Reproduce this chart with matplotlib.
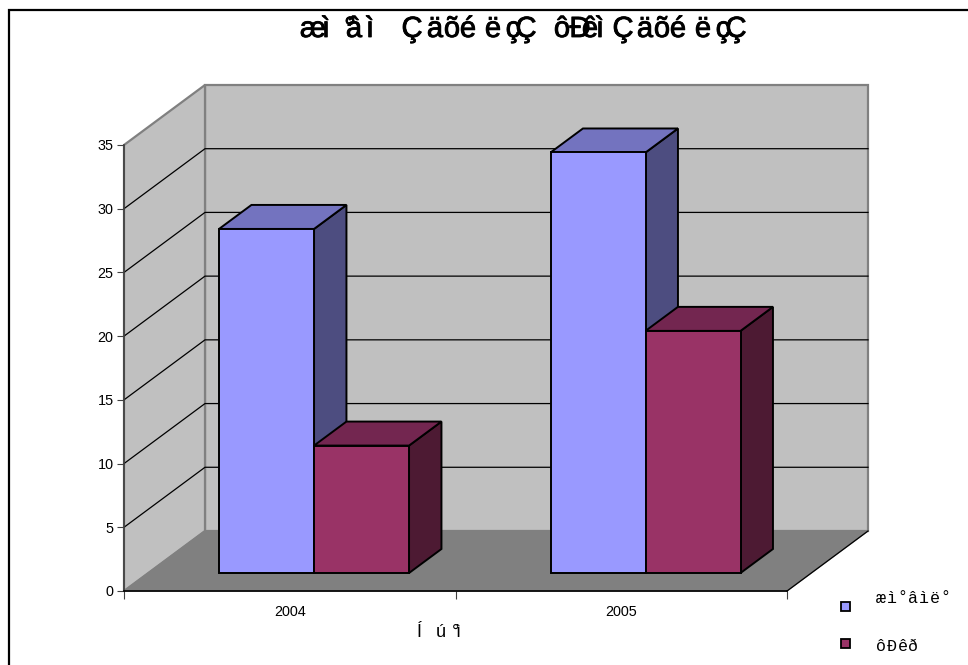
import matplotlib.pyplot as plt
import matplotlib.patheffects as pe
from matplotlib.patches import Polygon, Rectangle
from matplotlib.lines import Line2D

years = ['2004', '2005']
series_names = ['æì°âìë°', 'ôÐêð']
series_a = [27, 33]
series_b = [10, 19]
y_ticks = [0, 5, 10, 15, 20, 25, 30, 35]

title_chars = list('æì°âìÇäõéëçÇôÐêìÇäõéëçÇ')
title_x = [313, 326, 350, 354, 370, 412, 435, 452, 468, 493, 513, 526,
           562, 580, 590, 600, 623, 645, 662, 678, 703, 723, 736]
xlabel_chars = ['Í', 'ú', 'ì', '°']
xlabel_x = [419, 441, 458, 456]

colors_a = ['#9999FF', '#7373BF', '#4D4D80']
colors_b = ['#993366', '#732650', '#4D1A33']
W, H = 968, 665

plt.rcParams['font.family'] = ['Liberation Sans', 'DejaVu Sans']

fig = plt.figure(figsize=(W / 100, H / 100), dpi=100)
ax = fig.add_axes([124 / W, (H - 591) / H, 663 / W, 446 / H])
ax.set_xlim(0, 2)
ax.set_ylim(0, 35)
ax.patch.set_visible(False)

# depth of the 3d box in data units
dx = 81 / 331.5
dy = 60 / 12.74


def poly(pts, color, edge='black', lw=1.0, z=2):
    ax.add_patch(Polygon(pts, closed=True, facecolor=color, edgecolor=edge,
                         linewidth=lw, joinstyle='miter', clip_on=False, zorder=z))


def pt(x, y, d=0.0):
    return (x + d * dx, y + d * dy)


def cube(x0, x1, val, cols, z):
    d0, d1 = 0.3, 0.7
    poly([pt(x1, 0, d0), pt(x1, 0, d1), pt(x1, val, d1), pt(x1, val, d0)], cols[2], lw=1.4, z=z)
    poly([pt(x0, val, d0), pt(x1, val, d0), pt(x1, val, d1), pt(x0, val, d1)], cols[1], lw=1.4, z=z)
    poly([pt(x0, 0, d0), pt(x1, 0, d0), pt(x1, val, d0), pt(x0, val, d0)], cols[0], lw=1.4, z=z)


# walls and floor
poly([pt(0, 0, 1), pt(2, 0, 1), pt(2, 35, 1), pt(0, 35, 1)], '#C0C0C0', edge='#808080', lw=1.6, z=1)
poly([pt(0, 0), pt(0, 0, 1), pt(0, 35, 1), pt(0, 35)], '#C0C0C0', edge='#808080', lw=1.6, z=1)
poly([pt(0, 0), pt(2, 0), pt(2, 0, 1), pt(0, 0, 1)], '#808080', edge='#808080', lw=1.0, z=1)
ax.plot(*zip(pt(2, 0), pt(2, 0, 1)), color='black', lw=0.9, zorder=1.5, clip_on=False)

# gridlines, left wall then back wall
for t in y_ticks[1:-1]:
    ax.plot(*zip(pt(0, t), pt(0, t, 1), pt(2, t, 1)), color='black', lw=0.9, zorder=1.5, clip_on=False)

# bars
bar_w = 95 / 331.5
for i in range(len(years)):
    c = i + 0.5
    cube(c - bar_w, c, series_a[i], colors_a, 3 + i)
    cube(c, c + bar_w, series_b[i], colors_b, 3.5 + i)

# axes
for s in ['top', 'right']:
    ax.spines[s].set_visible(False)
ax.spines['left'].set_color('#404040')
ax.spines['left'].set_linewidth(1.2)
ax.spines['bottom'].set_linewidth(1.2)
ax.spines['left'].set_zorder(2.5)
ax.spines['bottom'].set_zorder(2.5)
ax.set_yticks(y_ticks)
ax.set_xticks([0, 1, 2])
ax.set_xticklabels([])
ax.set_xticks([0.5, 1.5], minor=True)
ax.set_xticklabels(years, minor=True)
ax.tick_params(axis='y', length=5, width=0.8, labelsize=10.4, pad=2.5, color='#404040')
ax.tick_params(axis='x', which='major', length=6, width=0.8, color='#404040')
ax.tick_params(axis='x', which='minor', length=0, labelsize=10.4, pad=10)


def fx(x):
    return x / W


def fy(y):
    return 1 - y / H


def put_chars(chars, xs, base, size, family='Liberation Sans', stroke=0.0):
    for ch, x in zip(chars, xs):
        t = fig.text(fx(x), fy(base), ch, ha='center', va='baseline', fontsize=size, family=family)
        if stroke:
            t.set_path_effects([pe.withStroke(linewidth=stroke, foreground='black')])


put_chars(title_chars, title_x, 37, 21, stroke=0.6)
put_chars(xlabel_chars, xlabel_x, 637, 13)

# legend, the letters are spread out by hand
legend_y = [603, 651]
legend_sq = [602, 639]
for name, ty, sy, cols in zip(series_names, legend_y, legend_sq, [colors_a, colors_b]):
    fig.add_artist(Rectangle((fx(841), fy(sy + 9)), 9 / W, 9 / H, transform=fig.transFigure,
                             facecolor=cols[0], edgecolor='black', linewidth=1.3))
    xs = [881 + k * 10.8 for k in range(len(name))]
    put_chars(name, xs, ty, 12, family='Liberation Mono')

# chart frame, only top and left show in the picture
fig.add_artist(Line2D([fx(9), fx(9), 1], [0, fy(10), fy(10)], color='black', lw=1.6, solid_joinstyle='miter'))

fig.savefig('out.png', dpi=100)
